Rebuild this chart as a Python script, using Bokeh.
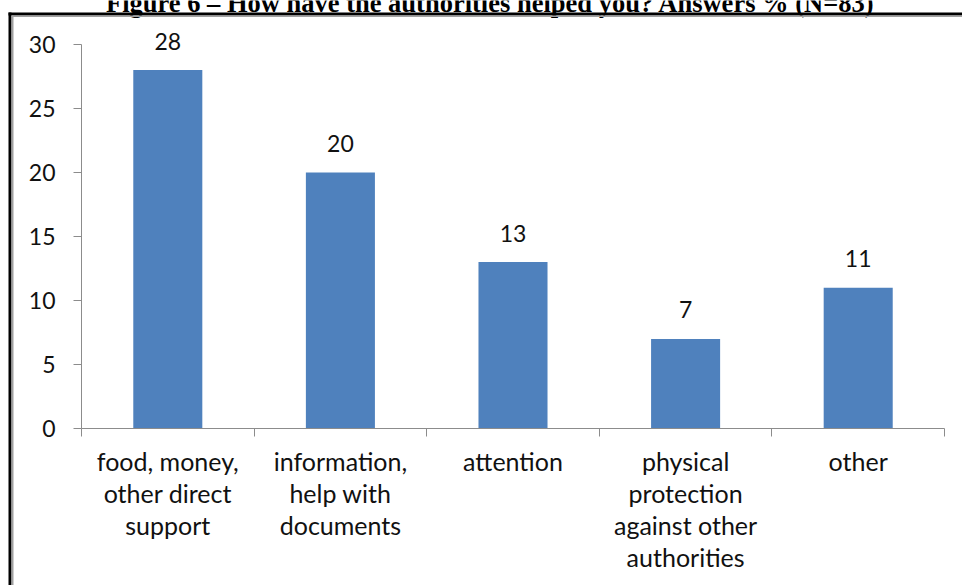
from bokeh.plotting import figure
from bokeh.models import (ColumnDataSource, Range1d, FixedTicker, Label, BoxAnnotation)
from bokeh.embed import file_html
from bokeh.resources import INLINE

# ---- data ----
categories = ["food, money,\nother direct\nsupport",
              "information,\nhelp with\ndocuments",
              "attention",
              "physical\nprotection\nagainst other\nauthorities",
              "other"]
values = [28, 20, 13, 7, 11]
y_ticks = [0, 5, 10, 15, 20, 25, 30]
y_max = 30
title_text = "Figure 6 \u2013 How have the authorities helped you? Answers % (N=83)"

FONT = "Lato"
TEXT_COLOR = "#111111"
AXIS_COLOR = "#8c8c8c"
BAR_COLOR = "#4F81BD"

W, H = 962, 585
# pixel layout of the plotting area (axes drawn at fixed locations inside the frame)
AX_LEFT, AX_RIGHT, AX_TOP, AX_BOTTOM = 81, 944, 44, 428
n = len(categories)
px_x = (AX_RIGHT - AX_LEFT) / n
px_y = (AX_BOTTOM - AX_TOP) / y_max
x_range = Range1d(-AX_LEFT / px_x, (W - AX_LEFT) / px_x)
y_range = Range1d(-(H - AX_BOTTOM) / px_y, AX_BOTTOM / px_y)

p = figure(width=W, height=H, output_backend="svg", toolbar_location=None, title=None,
           x_range=x_range, y_range=y_range, min_border=0)
p.outline_line_color = None
p.xgrid.visible = False
p.ygrid.visible = False
p.background_fill_color = "white"
p.border_fill_color = "white"

centers = [i + 0.5 for i in range(n)]
src = ColumnDataSource(dict(x=centers, top=values))
p.vbar(x="x", top="top", width=0.4, bottom=0, source=src,
       fill_color=BAR_COLOR, line_color=None)

for xc, v in zip(centers, values):
    p.add_layout(Label(x=xc, y=v, text=str(v), y_offset=29,
                       text_align="center", text_baseline="alphabetic",
                       text_font=FONT, text_font_size="23px", text_color=TEXT_COLOR))

# x axis: ticks at category boundaries, labels at centres
xa = p.xaxis[0]
xa.fixed_location = 0
xa.bounds = (0, n)
xa.ticker = FixedTicker(ticks=centers, minor_ticks=list(range(n + 1)))
xa.major_label_overrides = {c: lab for c, lab in zip(centers, categories)}
xa.major_tick_out = 0
xa.major_tick_in = 0
xa.minor_tick_out = 8
xa.minor_tick_in = 0
xa.minor_tick_line_color = AXIS_COLOR
xa.axis_line_color = AXIS_COLOR
xa.major_label_text_font = FONT
xa.major_label_text_font_size = "25px"
xa.major_label_text_color = TEXT_COLOR
xa.major_label_text_line_height = 1.07
xa.major_label_standoff = 9
xa.major_label_text_align = "center"

ya = p.yaxis[0]
ya.fixed_location = 0
ya.bounds = (0, y_max)
ya.ticker = FixedTicker(ticks=y_ticks, minor_ticks=[])
ya.major_tick_out = 8
ya.major_tick_in = 0
ya.major_tick_line_color = AXIS_COLOR
ya.axis_line_color = AXIS_COLOR
ya.major_label_text_font = FONT
ya.major_label_text_font_size = "23px"
ya.major_label_text_color = TEXT_COLOR
ya.major_label_standoff = 18

# document frame around the chart (black outer line, grey inner line)
def frame_box(l, r, t, b, color):
    p.add_layout(BoxAnnotation(left=l, right=r, top=t, bottom=b,
                               left_units="canvas", right_units="canvas",
                               top_units="canvas", bottom_units="canvas",
                               fill_color=color, fill_alpha=1.0, line_color=None,
                               level="overlay"))

frame_box(8, W, 12, 15, "black")
frame_box(8, 11, 12, H, "black")
frame_box(11, W, 15, 16.5, "#a0a0a0")
frame_box(11, 13, 15, H, "#a0a0a0")

p.add_layout(Label(x=490, y=2, x_units="canvas", y_units="canvas", text=title_text,
                   text_align="center", text_baseline="alphabetic",
                   text_font="Liberation Serif", text_font_style="bold",
                   text_font_size="26.5px", text_color="black"))

open("out.html", "w").write(file_html(p, INLINE))
